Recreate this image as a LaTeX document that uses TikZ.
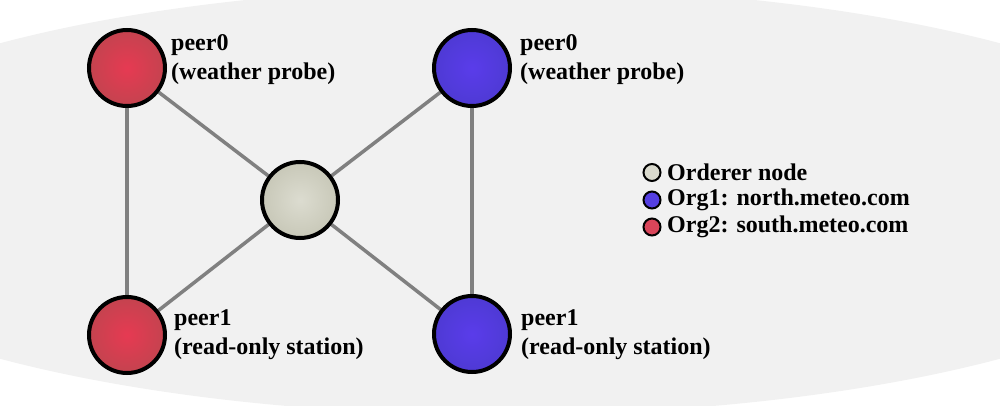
\documentclass[tikz,border=0pt]{standalone}
\usepackage{fontspec}
\setmainfont{Liberation Serif}
\usetikzlibrary{backgrounds}
\definecolor{bggray}{HTML}{F1F1F1}
\definecolor{linkgray}{HTML}{808080}
\definecolor{redc}{HTML}{E63A52}
\definecolor{rede}{HTML}{C4434F}
\definecolor{bluec}{HTML}{5A3CEA}
\definecolor{bluee}{HTML}{4E3AD4}
\definecolor{ordc}{HTML}{DCDCD0}
\definecolor{orde}{HTML}{C8C8B8}
\definecolor{legord}{HTML}{DADACE}
\definecolor{legblue}{HTML}{553FE2}
\definecolor{legred}{HTML}{D9455A}
\begin{document}
\begin{tikzpicture}[x=1pt,y=-1pt,
  peer/.style={circle, draw=black, line width=4pt, minimum size=76pt, inner sep=0pt},
  redpeer/.style={peer, inner color=redc, outer color=rede},
  bluepeer/.style={peer, inner color=bluec, outer color=bluee},
  ordnode/.style={peer, inner color=ordc, outer color=orde},
  link/.style={draw=linkgray, line width=3.5pt},
  lbl/.style={font=\fontsize{24}{29}\selectfont\bfseries, align=left, inner sep=0pt, anchor=west},
  leg/.style={circle, draw=black, line width=2pt, minimum size=17pt, inner sep=0pt},
  legtxt/.style={font=\fontsize{24}{29}\selectfont\bfseries, inner sep=0pt, anchor=west}]
\useasboundingbox (0,0) rectangle (1000,406);
\clip (0,0) rectangle (1000,406);
% nodes
\node[redpeer] (r0) at (127,68) {};
\node[redpeer] (r1) at (127,335) {};
\node[bluepeer] (b0) at (472,68) {};
\node[bluepeer] (b1) at (472,334) {};
\node[ordnode] (o) at (300,200) {};
% labels
\node[lbl] (lr0) at (171,60) {peer0\\(weather probe)};
\node[lbl] (lr1) at (174,335) {peer1\\(read-only station)};
\node[lbl] (lb0) at (520,60) {peer0\\(weather probe)};
\node[lbl] (lb1) at (521,335) {peer1\\(read-only station)};
% legend
\node[leg, fill=legord] (l1) at (652,172.5) {};
\node[leg, fill=legblue] (l2) at (652,200) {};
\node[leg, fill=legred] (l3) at (652,227) {};
\node[legtxt] (t1) at (667,172.5) {Orderer node};
\node[legtxt] (t2) at (667,200) {Org1: north.meteo.com};
\node[legtxt] (t3) at (667,227) {Org2: south.meteo.com};
\begin{pgfonlayer}{background}
  \fill[bggray] (500,201) ellipse [x radius=740, y radius=214];
  \draw[link] (r0) -- (r1);
  \draw[link] (b0) -- (b1);
  \draw[link] (r0) -- (o);
  \draw[link] (b0) -- (o);
  \draw[link] (r1) -- (o);
  \draw[link] (b1) -- (o);
\end{pgfonlayer}
\end{tikzpicture}
\end{document}
